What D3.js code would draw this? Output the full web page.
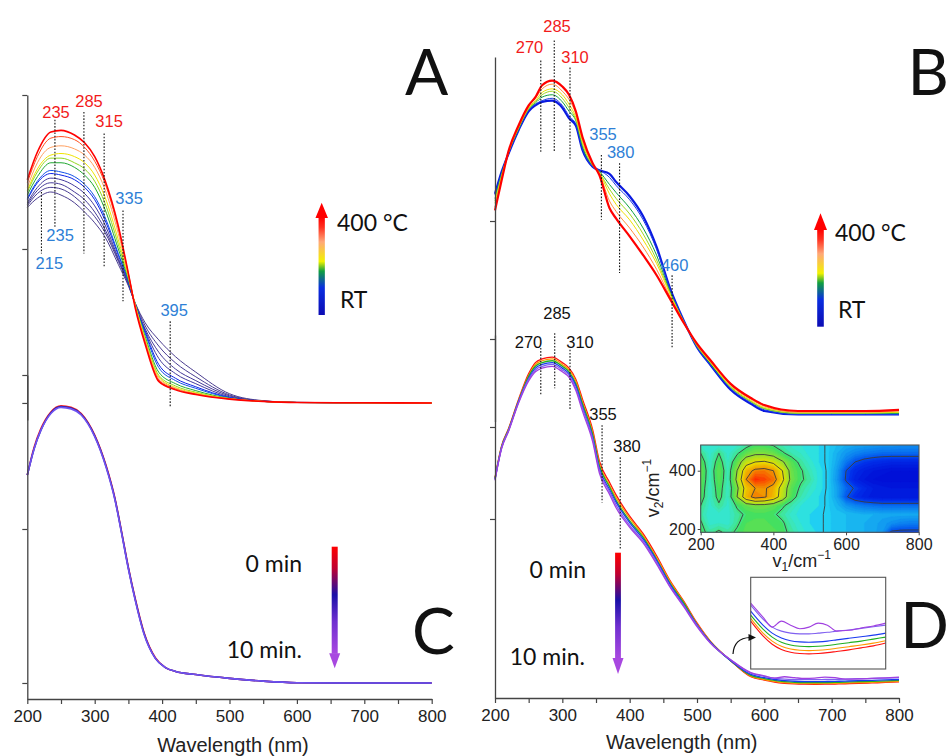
<!DOCTYPE html>
<html><head><meta charset="utf-8">
<script src="https://cdn.jsdelivr.net/npm/d3@7"></script>
<style>body{margin:0;background:#fff}svg{display:block}</style>
</head><body>
<svg id="c" width="951" height="756"></svg>
<script>
// ---------------- DATA ----------------
// Panel A: in-situ heating spectra (RT -> 400 °C)
const wlA = [200,215,235,250,270,285,300,315,335,350,360,375,395,420,450,500,550,600,700,800];
const tempsA = [25,60,95,130,165,200,235,270,305,340,370,400];
const absA = [
 [1.27,1.33,1.37,1.35,1.30,1.24,1.17,1.08,0.90,0.76,0.65,0.52,0.41,0.30,0.20,0.06,0.015,0.004,0.001,0],
 [1.28,1.36,1.40,1.39,1.34,1.28,1.21,1.11,0.92,0.77,0.65,0.50,0.37,0.26,0.17,0.052,0.013,0.004,0.001,0],
 [1.29,1.38,1.43,1.42,1.37,1.32,1.24,1.13,0.93,0.77,0.64,0.48,0.33,0.22,0.145,0.046,0.012,0.003,0.001,0],
 [1.30,1.40,1.46,1.45,1.41,1.36,1.28,1.16,0.94,0.78,0.64,0.47,0.29,0.19,0.125,0.04,0.01,0.003,0.001,0],
 [1.32,1.43,1.49,1.48,1.45,1.40,1.32,1.19,0.96,0.79,0.64,0.46,0.25,0.16,0.105,0.036,0.01,0.003,0.001,0],
 [1.33,1.44,1.51,1.50,1.47,1.42,1.34,1.21,0.97,0.79,0.64,0.45,0.23,0.145,0.095,0.034,0.01,0.003,0.001,0],
 [1.35,1.47,1.56,1.56,1.53,1.48,1.40,1.26,1.00,0.80,0.64,0.43,0.20,0.125,0.08,0.03,0.01,0.003,0.001,0],
 [1.37,1.50,1.59,1.59,1.56,1.52,1.44,1.30,1.03,0.81,0.64,0.42,0.18,0.11,0.07,0.029,0.01,0.003,0.001,0],
 [1.38,1.52,1.61,1.62,1.60,1.56,1.48,1.34,1.06,0.82,0.64,0.41,0.17,0.10,0.065,0.028,0.01,0.003,0.001,0],
 [1.40,1.56,1.66,1.67,1.65,1.61,1.53,1.39,1.10,0.83,0.63,0.40,0.16,0.095,0.06,0.027,0.01,0.003,0.001,0],
 [1.43,1.60,1.72,1.73,1.71,1.66,1.57,1.43,1.13,0.84,0.63,0.39,0.15,0.09,0.058,0.026,0.01,0.003,0.001,0],
 [1.45,1.63,1.76,1.77,1.74,1.69,1.60,1.45,1.15,0.84,0.62,0.38,0.14,0.085,0.055,0.025,0.01,0.003,0.001,0]
];
const markA_wl  = [221,241,284,314,342,412];
const markA_top = [1.37,1.84,1.89,1.75,1.25,0.53];
const markA_bot = [0.97,1.14,0.97,0.88,0.66,-0.03];
const labA_text = ["235","285","315","335","235","215","395"];
const labA_wl   = [242.6,291.6,321.3,351,248.6,232.7,417.9];
const labA_val  = [1.85,1.92,1.79,1.29,1.05,0.87,0.565];
const labA_kind = ["hot","hot","hot","cold","cold","cold","cold"];

// Panel B: in-situ heating spectra (RT -> 400 °C)
const wlB = [200,210,220,235,250,260,270,285,300,310,320,330,345,355,370,380,400,420,440,460,480,500,520,550,580,600,650,700,750,800];
const tempsB = [25,90,160,220,280,340,400];
const absB = [
 [2.23,2.42,2.57,2.77,2.93,2.98,3.01,3.02,2.96,2.87,2.81,2.60,2.46,2.43,2.40,2.33,2.21,2.04,1.78,1.43,1.16,0.93,0.78,0.57,0.45,0.39,0.36,0.36,0.36,0.36],
 [2.22,2.41,2.57,2.77,2.94,2.99,3.02,3.04,2.98,2.89,2.82,2.61,2.46,2.43,2.37,2.30,2.18,2.01,1.76,1.42,1.16,0.93,0.78,0.58,0.46,0.40,0.36,0.36,0.36,0.36],
 [2.19,2.40,2.58,2.78,2.95,3.00,3.05,3.07,3.01,2.93,2.85,2.63,2.47,2.42,2.31,2.24,2.11,1.94,1.71,1.40,1.15,0.94,0.79,0.59,0.47,0.41,0.37,0.37,0.37,0.37],
 [2.17,2.39,2.58,2.79,2.95,3.01,3.07,3.10,3.04,2.96,2.86,2.65,2.47,2.41,2.27,2.19,2.06,1.89,1.67,1.39,1.15,0.94,0.80,0.59,0.47,0.41,0.37,0.37,0.37,0.38],
 [2.15,2.38,2.58,2.79,2.96,3.02,3.09,3.12,3.07,2.99,2.88,2.67,2.48,2.41,2.23,2.14,2.01,1.84,1.64,1.38,1.15,0.95,0.80,0.60,0.48,0.42,0.38,0.38,0.38,0.38],
 [2.12,2.36,2.59,2.80,2.97,3.04,3.12,3.16,3.10,3.03,2.91,2.69,2.48,2.40,2.17,2.08,1.94,1.78,1.59,1.36,1.14,0.95,0.81,0.61,0.49,0.43,0.38,0.38,0.38,0.39],
 [2.09,2.35,2.59,2.81,2.98,3.05,3.15,3.19,3.14,3.07,2.93,2.71,2.49,2.39,2.11,2.02,1.87,1.71,1.54,1.34,1.14,0.96,0.82,0.62,0.50,0.44,0.39,0.39,0.39,0.40]
];
const markB_wl  = [268,288,311.4,358,385,463];
const markB_top = [3.36,3.53,3.30,2.56,2.49,1.54];
const markB_bot = [2.58,2.58,2.52,2.01,1.56,0.92];
const labB_text = ["270","285","310","355","380","460"];
const labB_wl   = [251.2,292.1,318.8,360.4,386.7,466.9];
const labB_val  = [3.42,3.60,3.34,2.69,2.53,1.58];
const labB_kind = ["hot","hot","hot","cold","cold","cold"];

// Panel C: time series (0 -> 10 min)
const wlC = [200,210,220,235,250,265,280,300,317,330,340,350,360,373,390,405,420,450,500,550,600,700,800];
const timesC = [0,5,10];
const absC = [
 [1.35,1.53,1.65,1.76,1.80,1.79,1.75,1.61,1.41,1.20,0.98,0.75,0.55,0.33,0.165,0.10,0.075,0.055,0.03,0.012,0.002,0,0],
 [1.35,1.52,1.64,1.755,1.795,1.785,1.745,1.605,1.405,1.195,0.975,0.745,0.545,0.325,0.16,0.10,0.075,0.055,0.03,0.012,0.002,0,0],
 [1.35,1.52,1.64,1.75,1.79,1.78,1.74,1.60,1.40,1.19,0.97,0.74,0.54,0.32,0.16,0.10,0.075,0.055,0.03,0.012,0.002,0,0]
];

// Panel D: time series (0 -> 10 min)
const wlD = [200,210,220,235,250,260,270,285,300,310,320,330,345,355,370,380,400,420,440,460,480,500,520,550,580,600,615,630,645,660,675,690,705,720,740,760,780,800];
const timesD = [0,2,4,6,8,10];
const absD = [
 [2.45,2.80,2.98,3.30,3.58,3.70,3.74,3.76,3.70,3.64,3.52,3.30,2.97,2.63,2.40,2.26,2.03,1.84,1.60,1.33,1.11,0.87,0.67,0.46,0.285,0.248,0.227,0.214,0.207,0.204,0.203,0.204,0.206,0.209,0.213,0.218,0.223,0.23],
 [2.44,2.79,2.97,3.29,3.56,3.68,3.72,3.74,3.68,3.62,3.50,3.27,2.94,2.60,2.37,2.23,2.01,1.82,1.58,1.32,1.10,0.86,0.67,0.46,0.292,0.255,0.235,0.222,0.215,0.212,0.211,0.212,0.214,0.217,0.221,0.225,0.23,0.236],
 [2.44,2.79,2.97,3.28,3.55,3.66,3.70,3.72,3.66,3.60,3.47,3.25,2.92,2.58,2.35,2.20,1.98,1.80,1.56,1.30,1.09,0.85,0.66,0.46,0.30,0.265,0.245,0.232,0.225,0.222,0.221,0.222,0.224,0.227,0.231,0.235,0.24,0.245],
 [2.43,2.78,2.96,3.28,3.53,3.64,3.68,3.70,3.64,3.58,3.45,3.22,2.89,2.55,2.32,2.18,1.96,1.78,1.55,1.29,1.07,0.85,0.66,0.46,0.31,0.275,0.255,0.243,0.236,0.233,0.232,0.233,0.235,0.238,0.242,0.246,0.25,0.255],
 [2.43,2.78,2.96,3.27,3.52,3.62,3.66,3.68,3.62,3.56,3.42,3.20,2.87,2.53,2.30,2.15,1.93,1.76,1.53,1.27,1.06,0.84,0.65,0.47,0.325,0.29,0.27,0.26,0.255,0.253,0.253,0.255,0.257,0.26,0.263,0.267,0.271,0.275],
 [2.42,2.77,2.95,3.26,3.50,3.60,3.64,3.66,3.60,3.54,3.40,3.17,2.84,2.50,2.27,2.12,1.91,1.74,1.51,1.26,1.05,0.83,0.65,0.47,0.33,0.295,0.27,0.285,0.275,0.266,0.27,0.28,0.275,0.26,0.262,0.268,0.273,0.28]
];
const markD_wl  = [268,288.7,311.4,359,386];
const markD_top = [3.86,4.02,3.84,3.02,2.67];
const markD_bot = [3.35,3.42,3.18,2.18,1.68];
const labD_text = ["285","270","310","355","380"];
const labD_wl   = [292.1,249.8,326.2,360.4,396];
const labD_val  = [4.17,3.86,3.86,3.08,2.73];

// 2D correlation map (inset)
const v1Grid = [200,225,250,275,300,325,350,375,400,425,450,475,500,525,550,575,600,625,650,675,700,725,750,775,800];
const v2Grid = [490,460,430,400,370,340,310,280,250,220,190];
const corr = [
 [0.4,0.3,0.3,0.3,0.4,0.7,1.1,1.1,0.9,0.6,0.4,0.3,0.2,0.1,-0.05,-0.3,-0.5,-0.6,-0.7,-0.8,-0.9,-0.9,-1.0,-1.0,-1.0],
 [1.0,0.4,1.0,0.4,0.9,1.5,1.8,1.8,1.6,1.1,0.7,0.5,0.2,0.1,-0.05,-0.5,-0.9,-1.2,-1.4,-1.5,-1.6,-1.6,-1.6,-1.6,-1.6],
 [1.4,0.5,1.3,0.5,1.5,2.6,3.0,3.1,2.8,2.1,1.4,0.8,0.4,0.1,-0.05,-0.6,-1.4,-2.0,-2.3,-2.5,-2.6,-2.7,-2.7,-2.7,-2.7],
 [1.6,0.6,1.5,0.6,2.0,3.6,4.2,4.3,4.0,3.0,1.6,1.1,0.6,0.2,-0.05,-0.8,-2.0,-2.6,-2.9,-3.1,-3.2,-3.3,-3.3,-3.3,-3.3],
 [1.5,0.6,1.4,0.6,2.2,4.0,5.0,4.8,4.4,3.2,1.7,1.1,0.8,0.2,-0.05,-0.9,-2.1,-2.8,-3.1,-3.3,-3.4,-3.4,-3.4,-3.4,-3.4],
 [1.4,0.5,1.3,0.5,1.8,3.4,4.0,4.1,3.7,2.6,1.4,0.9,0.5,0.2,-0.05,-0.7,-1.6,-2.1,-2.6,-2.9,-3.0,-3.1,-3.1,-3.1,-3.1],
 [1.3,0.5,1.2,0.5,2.0,3.6,4.3,4.1,3.6,2.5,1.3,0.7,0.3,0.1,-0.05,-0.7,-1.9,-2.5,-2.8,-3.0,-3.1,-3.1,-3.1,-3.1,-3.1],
 [1.0,0.4,0.9,0.4,1.1,1.5,1.7,1.7,1.5,1.1,0.7,0.3,0.2,0.1,-0.05,-0.4,-0.9,-1.2,-1.4,-1.5,-1.6,-1.6,-1.6,-1.6,-1.6],
 [0.8,0.3,0.4,0.4,0.8,1.1,1.2,1.2,1.1,0.8,0.4,0.2,0.1,0.05,-0.05,-0.2,-0.3,-0.4,-0.5,-0.5,-0.6,-0.6,-0.6,-0.6,-0.6],
 [1.1,0.4,0.5,0.4,0.9,1.3,1.4,1.4,1.2,1.1,0.6,0.3,0.1,0.05,-0.05,-0.2,-0.3,-0.4,-0.5,-0.6,-0.8,-1.0,-1.2,-1.3,-1.3],
 [1.2,0.8,1.1,0.8,1.1,1.4,1.5,1.5,1.4,1.2,0.8,0.4,0.2,0.05,-0.05,-0.2,-0.3,-0.4,-0.5,-0.6,-0.9,-2.1,-2.2,-2.2,-2.2]
];
const xTicks = [200,250,300,350,400,450,500,550,600,650,700,750,800];

// ---------------- DRAWING ----------------
const NUMF = "'Liberation Sans', Arial, sans-serif";
const TXTF = "Lato, 'Open Sans', sans-serif";
const svg = d3.select("#c");
const defs = svg.append("defs");

const xL = d3.scaleLinear().domain([200,800]).range([27.3,431.7]);
const xR = d3.scaleLinear().domain([200,800]).range([495,899]);
const yA = d3.scaleLinear().domain([-0.11,2]).range([419.9,95]);
const yC = d3.scaleLinear().domain([-0.104,2]).range([699,375]);
const yB = d3.scaleLinear().domain([0.3,3.39]).range([421.6,57]);
const yD = d3.scaleLinear().domain([0.054,4]).range([698,335]);

const colA = d3.scaleLinear().domain([25,130,165,200,235,270,305,340,370,400])
  .range(["#4b3d8f","#42399c","#0a22e8","#1050e8","#20a830","#90d820","#f0e400","#ffa060","#ff5020","#ff0000"]);
const colB = d3.scaleLinear().domain(tempsB)
  .range(["#0a1ae0","#1a3ae8","#10a040","#a0d820","#f0e000","#ff9040","#ff0000"]);
const colC = d3.scaleLinear().domain(timesC).range(["#ff2020","#2020b0","#6f52f0"]);
const colD = d3.scaleLinear().domain(timesD).range(["#ff1010","#ff9900","#20b020","#1a3af0","#8060f0","#a040e0"]);

function family(g, wl, rows, x, y, colorOf, widthOf) {
  const line = d3.line().x((d,i)=>x(wl[i])).y(d=>y(d)).curve(d3.curveMonotoneX);
  g.selectAll("path").data(rows).join("path")
    .attr("d", line).attr("fill","none")
    .attr("stroke",(d,i)=>colorOf(i)).attr("stroke-width",(d,i)=>widthOf(i))
    .attr("stroke-linejoin","round");
}
function xAxis(x, yPos) {
  const g = svg.append("g").attr("transform",`translate(0,${yPos})`)
    .call(d3.axisBottom(x).tickValues(xTicks).tickFormat(d=>d%100===0?d:"").tickSize(5).tickSizeOuter(0).tickPadding(6));
  g.select(".domain").attr("stroke","#444").attr("stroke-width",1.3);
  g.selectAll(".tick line").attr("stroke","#444").attr("stroke-width",1.2);
  g.selectAll("text").attr("font-family",NUMF).attr("font-size",17).attr("fill","#222");
}
function yAxis(y, xPos, ticks) {
  const g = svg.append("g").attr("transform",`translate(${xPos},0)`)
    .call(d3.axisLeft(y).tickValues(ticks).tickFormat("").tickSize(5).tickSizeOuter(0));
  g.select(".domain").attr("stroke","#444").attr("stroke-width",1.3);
  g.selectAll(".tick line").attr("stroke","#444").attr("stroke-width",1.2);
}
function markers(x, y, wl, top, bot) {
  svg.append("g").selectAll("line").data(wl).join("line")
    .attr("x1",d=>x(d)).attr("x2",d=>x(d))
    .attr("y1",(d,i)=>y(top[i])).attr("y2",(d,i)=>y(bot[i]))
    .attr("stroke","#111").attr("stroke-width",1.1).attr("stroke-dasharray","1.6,1.6");
}
function labels(x, y, txt, wl, val, colorOf) {
  svg.append("g").selectAll("text").data(txt).join("text")
    .attr("x",(d,i)=>x(wl[i])).attr("y",(d,i)=>y(val[i]))
    .attr("text-anchor","middle").attr("font-family",NUMF).attr("font-size",16.5)
    .attr("fill",(d,i)=>colorOf(i)).text(d=>d);
}
const HOT = "#f21a1a", COLD = "#2e7fd6";

// ---- Panel A
family(svg.append("g"), wlA, absA, xL, yA, i=>colA(tempsA[i]), i=> i===absA.length-1 ? 1.6 : 1);
markers(xL, yA, markA_wl, markA_top, markA_bot);
labels(xL, yA, labA_text, labA_wl, labA_val, i=>labA_kind[i]==="hot"?HOT:COLD);

// ---- Panel C
family(svg.append("g"), wlC, absC, xL, yC, i=>colC(timesC[i]), i=>1.6);

// ---- Panel B
family(svg.append("g"), wlB, absB, xR, yB, i=>colB(tempsB[i]), i=>(i===0||i===absB.length-1)?2.2:1);
markers(xR, yB, markB_wl, markB_top, markB_bot);
labels(xR, yB, labB_text, labB_wl, labB_val, i=>labB_kind[i]==="hot"?HOT:COLD);

// ---- Panel D
family(svg.append("g"), wlD, absD, xR, yD, i=>colD(timesD[i]), i=>1.3);
markers(xR, yD, markD_wl, markD_top, markD_bot);
labels(xR, yD, labD_text, labD_wl, labD_val, i=>"#111");

// ---- Axes
yAxis(yA, 27.3, [0,1,2]);
yAxis(yC, 27.3, [0,1,2]);
yAxis(yB, 495, [1,2]);
yAxis(yD, 495, [2,3]);
xAxis(xL, 699);
xAxis(xR, 698);
svg.append("text").attr("x",233).attr("y",752).attr("text-anchor","middle")
  .attr("font-family",NUMF).attr("font-size",20).attr("fill","#222").text("Wavelength (nm)");
svg.append("text").attr("x",681.7).attr("y",749).attr("text-anchor","middle")
  .attr("font-family",NUMF).attr("font-size",20).attr("fill","#222").text("Wavelength (nm)");

// ---- Legends (gradient arrows)
const gT = defs.append("linearGradient").attr("id","gTemp").attr("x1",0).attr("y1",1).attr("x2",0).attr("y2",0);
[[0,"#0c0cb4"],[0.28,"#0a2ee0"],[0.45,"#10a040"],[0.55,"#f2f200"],[0.75,"#ffa878"],[0.9,"#ff3020"],[1,"#ff0000"]]
  .forEach(s=>gT.append("stop").attr("offset",s[0]).attr("stop-color",s[1]));
const gM = defs.append("linearGradient").attr("id","gTime").attr("x1",0).attr("y1",0).attr("x2",0).attr("y2",1);
[[0,"#ff0000"],[0.2,"#c00030"],[0.45,"#1a10a8"],[0.7,"#7030d0"],[1,"#a848e0"]]
  .forEach(s=>gM.append("stop").attr("offset",s[0]).attr("stop-color",s[1]));

function upArrow(cx, tip, headBase, bottom, shaftW, headW) {
  svg.append("rect").attr("x",cx-shaftW/2).attr("y",headBase-0.5).attr("width",shaftW).attr("height",bottom-headBase+0.5).attr("fill","url(#gTemp)");
  svg.append("path").attr("d",`M${cx-headW/2},${headBase}L${cx+headW/2},${headBase}L${cx},${tip}Z`).attr("fill","#ff0000");
}
function downArrow(cx, top, headBase, tip, shaftW, headW) {
  svg.append("rect").attr("x",cx-shaftW/2).attr("y",top).attr("width",shaftW).attr("height",headBase-top+0.5).attr("fill","url(#gTime)");
  svg.append("path").attr("d",`M${cx-headW/2},${headBase}L${cx+headW/2},${headBase}L${cx},${tip}Z`).attr("fill","#a848e0");
}
function txt(x, y, s, anchor, size, fam) {
  return svg.append("text").attr("x",x).attr("y",y).attr("text-anchor",anchor||"start")
    .attr("font-family",fam||TXTF).attr("font-size",size||23).attr("fill","#111").text(s);
}
upArrow(321.7, 202.7, 218, 315, 6.3, 12.5);
txt(337, 231, "400 °C"); txt(340, 308, "RT");
upArrow(820.5, 213.3, 230, 326.7, 6.6, 13);
txt(835, 241, "400 °C"); txt(838, 318, "RT");
downArrow(334.7, 546.7, 653.3, 668.3, 6, 11);
txt(302, 572, "0 min", "end"); txt(302, 658, "10 min.", "end");
downArrow(618, 552.7, 658, 674, 5.8, 11);
txt(586, 578, "0 min", "end"); txt(585, 665, "10 min.", "end");

// panel letters (B and D kept inside the canvas)
txt(405, 95, "A", "start", 64); txt(949, 95, "B", "end", 64);
txt(412, 654, "C", "start", 64); txt(949, 648, "D", "end", 64);

// ---- Inset: 2D correlation map
const xI = d3.scaleLinear().domain([200,800]).range([700.7,918.7]);
const yI = d3.scaleLinear().domain([200,400]).range([529,470.7]);
const fx0 = 700.7, fx1 = 919, fy0 = 445, fy1 = 532.3;
defs.append("clipPath").attr("id","clipI").append("rect").attr("x",fx0).attr("y",fy0).attr("width",fx1-fx0).attr("height",fy1-fy0);
const nx = v1Grid.length, ny = v2Grid.length;
const vals = corr.flat();
const proj = d3.geoTransform({point: function(px, py) {
  const v1 = v1Grid[0] + (px-0.5)*(v1Grid[1]-v1Grid[0]);
  const v2 = v2Grid[0] + (py-0.5)*(v2Grid[1]-v2Grid[0]);
  this.stream.point(xI(v1), yI(v2));
}});
const gpath = d3.geoPath(proj);
const cmap = d3.scaleLinear()
  .domain([-3.4,-2.5,-1.5,-0.6,-0.1,0.15,0.6,1.1,2.0,3.0,4.0,5.0])
  .range(["#0010d8","#0030ea","#0a78f0","#16aef0","#20cff2","#30e6dc","#3ee6b0","#44e060","#98e030","#eae200","#f29000","#ff2000"])
  .clamp(true);
const gi = svg.append("g").attr("clip-path","url(#clipI)");
gi.append("rect").attr("x",fx0).attr("y",fy0).attr("width",fx1-fx0).attr("height",fy1-fy0).attr("fill","#30e6dc");
const fills = d3.contours().size([nx,ny]).thresholds(d3.range(-3.5,5.01,0.2))(vals);
gi.selectAll("path.f").data(fills).join("path").attr("class","f")
  .attr("d",gpath).attr("fill",d=>cmap(d.value)).attr("stroke",d=>cmap(d.value)).attr("stroke-width",0.3);
const lines = d3.contours().size([nx,ny]).thresholds([-2,0,1,2,3,4])(vals);
gi.selectAll("path.l").data(lines).join("path").attr("class","l")
  .attr("d",gpath).attr("fill","none").attr("stroke","#3c3c3c").attr("stroke-width",0.9);
svg.append("rect").attr("x",fx0).attr("y",fy0).attr("width",fx1-fx0).attr("height",fy1-fy0)
  .attr("fill","none").attr("stroke","#555").attr("stroke-width",1.1);
const axI = svg.append("g").attr("transform",`translate(0,${fy1})`)
  .call(d3.axisBottom(xI).tickValues([200,400,600,800]).tickSize(3).tickSizeOuter(0).tickPadding(3));
const ayI = svg.append("g").attr("transform",`translate(${fx0},0)`)
  .call(d3.axisLeft(yI).tickValues([200,400]).tickSize(3).tickSizeOuter(0).tickPadding(2));
[axI, ayI].forEach(g=>{
  g.select(".domain").remove();
  g.selectAll(".tick line").attr("stroke","#444");
  g.selectAll("text").attr("font-family",NUMF).attr("font-size",16).attr("fill","#222");
});
const xt = svg.append("text").attr("x",801.7).attr("y",567).attr("text-anchor","middle")
  .attr("font-family",NUMF).attr("font-size",18).attr("fill","#222");
xt.append("tspan").text("v");
xt.append("tspan").attr("dy",4).attr("font-size",12).text("1");
xt.append("tspan").attr("dy",-4).text("/cm");
xt.append("tspan").attr("dy",-8).attr("font-size",12).text("\u22121");
const yt = svg.append("text").attr("transform","translate(659,488) rotate(-90)").attr("text-anchor","middle")
  .attr("font-family",NUMF).attr("font-size",18).attr("fill","#222");
yt.append("tspan").text("v");
yt.append("tspan").attr("dy",4).attr("font-size",12).text("2");
yt.append("tspan").attr("dy",-4).text("/cm");
yt.append("tspan").attr("dy",-8).attr("font-size",12).text("\u22121");

// ---- Inset: magnified tail of D
const xIn = d3.scaleLinear().domain([580,800]).range([750.7,885.7]);
const yIn = d3.scaleLinear().domain([0.165,0.395]).range([669,577.3]);
defs.append("clipPath").attr("id","clipD").append("rect").attr("x",750.7).attr("y",577.3).attr("width",135).attr("height",91.7);
svg.append("rect").attr("x",750.7).attr("y",577.3).attr("width",135).attr("height",91.7).attr("fill","#fff");
const tailStart = wlD.indexOf(580);
const wlTail = wlD.slice(tailStart);
const tailRows = absD.map(r=>r.slice(tailStart));
family(svg.append("g").attr("clip-path","url(#clipD)"), wlTail, tailRows, xIn, yIn, i=>colD(timesD[i]), i=>1.1);
svg.append("rect").attr("x",750.7).attr("y",577.3).attr("width",135).attr("height",91.7)
  .attr("fill","none").attr("stroke","#555").attr("stroke-width",1.1);
svg.append("path").attr("d","M733,654 Q734,638 750,637.5").attr("fill","none").attr("stroke","#111").attr("stroke-width",1.2);
svg.append("path").attr("d","M756,637.5 L748.5,634 L748.5,641 Z").attr("fill","#111");
</script>
</body></html>
